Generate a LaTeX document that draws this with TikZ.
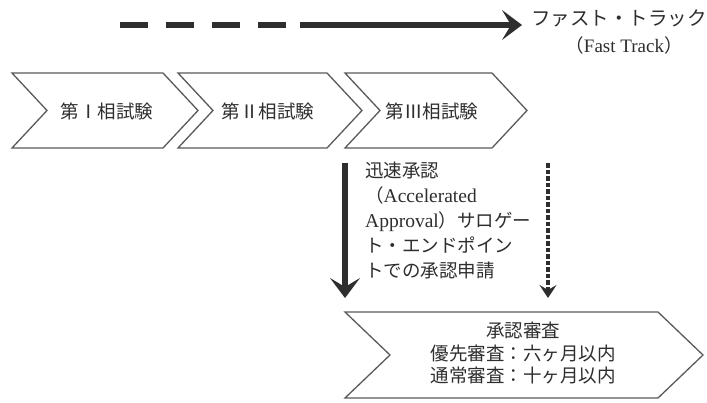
\documentclass[tikz,border=0pt]{standalone}
\usepackage{fontspec}
\setmainfont{Liberation Serif}
\newfontfamily\cjk{Noto Sans CJK JP}
\usetikzlibrary{arrows.meta}
\definecolor{ink}{HTML}{2E2E2E}
\definecolor{edge}{HTML}{5A5A5A}
% \mychev{name}{left}{right}{top}{bottom}{depth}
\newcommand\mychev[6]{%
  \draw[chev] (#2,#4) -- (#3,#4) -- ({#3+#6},{(#4+#5)/2}) -- (#3,#5) -- (#2,#5) -- ({#2+#6},{(#4+#5)/2}) -- cycle;
  \coordinate (#1) at ({(#2+#6+#3)/2},{(#4+#5)/2});}
\begin{document}
\begin{tikzpicture}[x=1pt,y=-1pt,
  chev/.style={draw=edge,line width=1.3pt,line join=miter},
  lbl/.style={font=\cjk\fontsize{18.5}{23}\selectfont,text=ink,inner sep=0pt},
  thickarrow/.style={draw=ink,line width=6pt,-{Stealth[length=20pt,width=30pt,inset=9pt]}},
  thinarrow/.style={draw=ink,line width=3.4pt,dash pattern=on 4.5pt off 2pt,-{Stealth[length=13pt,width=17pt,inset=5pt]}}]
\useasboundingbox (0,0) rectangle (707,402);
\fill[white] (0,0) rectangle (707,402);

% fast track arrow
\coordinate (ftA) at (120,25);
\coordinate (ftB) at (300,25);
\coordinate (ftC) at (522,25);
\draw[draw=ink,line width=6pt,dash pattern=on 28pt off 18pt] (ftA) -- (ftB);
\draw[thickarrow] (ftB) -- (ftC);
\node[lbl,font=\cjk\fontsize{19.5}{23}\selectfont] (ft1) at (619,18) {ファスト・トラック};
\node[lbl] (ft2) at (624,45) {（{\rmfamily\fontsize{19}{23}\selectfont Fast Track}）};

% phase chevrons
\mychev{c1}{12}{163}{73}{148}{35}
\mychev{c2}{178}{327}{73}{148}{35}
\mychev{c3}{345}{492}{73}{148}{35}
\node[lbl] (p1) at (107,111) {第Ⅰ相試験};
\node[lbl] (p2) at (268,111) {第Ⅱ相試験};
\node[lbl] (p3) at (432,111) {第Ⅲ相試験};

% approval review chevron
\mychev{c4}{345}{658}{312}{398}{45}
\node[lbl,align=center,font=\cjk\fontsize{18.5}{22.5}\selectfont] (rev) at (523,353)
  {承認審査\\優先審査：六ヶ月以内\\通常審査：十ヶ月以内};

% vertical arrows
\coordinate (aaS) at (345,163);
\coordinate (aaE) at (345,298);
\draw[thickarrow] (aaS) -- (aaE);
\coordinate (ptS) at (548,163);
\coordinate (ptE) at (548,298);
\draw[thinarrow] (ptS) -- (ptE);

\node[lbl,anchor=north west,align=left,font=\cjk\fontsize{18.5}{25}\selectfont] (aa) at (365,162)
  {迅速承認\\（{\rmfamily\fontsize{19.5}{25}\selectfont Accelerated}\\{\rmfamily\fontsize{19.5}{25}\selectfont Approval}）サロゲー\\ト・エンドポイン\\トでの承認申請};
\end{tikzpicture}
\end{document}
